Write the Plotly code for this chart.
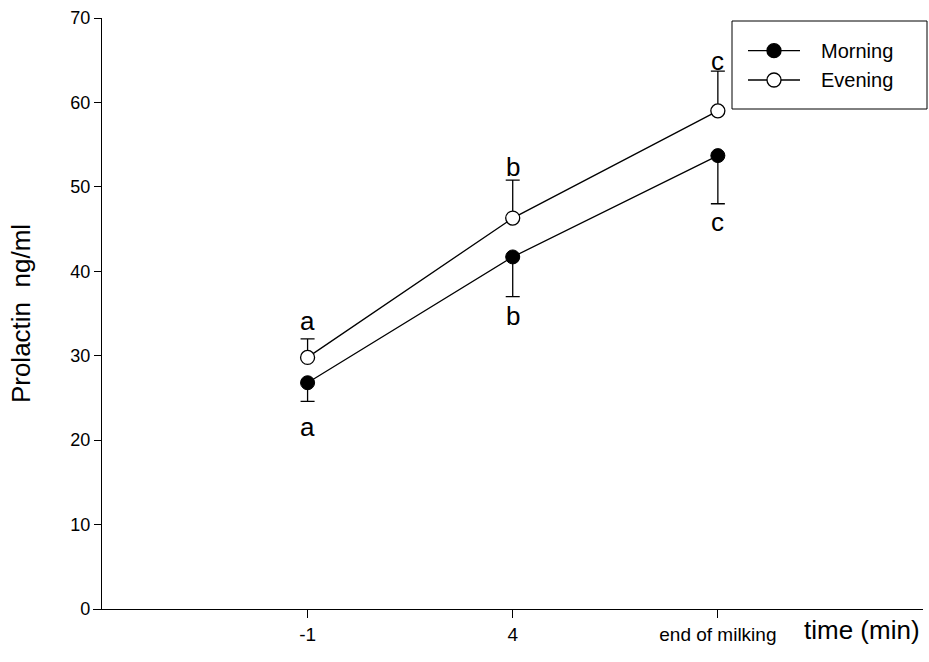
import plotly.graph_objects as go

# Sampling times (category positions 0, 1, 2 on the x axis)
time_labels = ["-1", "4", "end of milking"]
positions = [0, 1, 2]

# Prolactin means (ng/ml) and their one-sided standard errors
morning_mean = [26.8, 41.7, 53.7]
morning_sem = [2.2, 4.7, 5.7]
evening_mean = [29.8, 46.3, 59.0]
evening_sem = [2.2, 4.5, 4.7]

# Significance letters
morning_letters = ["a", "b", "c"]
evening_letters = ["a", "b", "c"]

FONT = "Arial, Liberation Sans, sans-serif"
BLACK = "#000000"

fig = go.Figure()

fig.add_trace(go.Scatter(
    x=positions, y=morning_mean, mode="lines+markers", name="Morning",
    line=dict(color=BLACK, width=1.3),
    marker=dict(symbol="circle", size=14, color=BLACK, line=dict(color=BLACK, width=1)),
    error_y=dict(type="data", symmetric=False, array=[0, 0, 0], arrayminus=morning_sem,
                 color=BLACK, thickness=1.3, width=7),
    showlegend=False,
))
fig.add_trace(go.Scatter(
    x=positions, y=evening_mean, mode="lines+markers", name="Evening",
    line=dict(color=BLACK, width=1.3),
    marker=dict(symbol="circle", size=14, color="white", line=dict(color=BLACK, width=1.3)),
    error_y=dict(type="data", symmetric=False, array=evening_sem, arrayminus=[0, 0, 0],
                 color=BLACK, thickness=1.3, width=7),
    showlegend=False,
))

# Letters above the evening error bars and below the morning error bars
above_shift = [18, 13, 10]
below_shift = [-26, -19, -18]
for i, p in enumerate(positions):
    fig.add_annotation(x=p, y=evening_mean[i] + evening_sem[i], text=evening_letters[i],
                       showarrow=False, yanchor="middle", yshift=above_shift[i],
                       font=dict(family=FONT, size=26, color=BLACK))
    fig.add_annotation(x=p, y=morning_mean[i] - morning_sem[i], text=morning_letters[i],
                       showarrow=False, yanchor="middle", yshift=below_shift[i],
                       font=dict(family=FONT, size=26, color=BLACK))

# Legend box drawn in paper coordinates
L, T = 93, 18
W, H = 830, 591
def px(x):
    return (x - L) / W
def py(y):
    return (T + H - y) / H

fig.add_shape(type="rect", xref="paper", yref="paper",
              x0=px(732), x1=px(927), y0=py(109), y1=py(21),
              line=dict(color=BLACK, width=1), fillcolor="white", layer="above")
legend_rows = [("Morning", BLACK, 50.7), ("Evening", "white", 80)]
for name, fill, ry in legend_rows:
    fig.add_shape(type="line", xref="paper", yref="paper",
                  x0=px(748), x1=px(800), y0=py(ry), y1=py(ry),
                  line=dict(color=BLACK, width=1.3), layer="above")
    fig.add_shape(type="circle", xref="paper", yref="paper",
                  xsizemode="pixel", ysizemode="pixel",
                  xanchor=px(774), yanchor=py(ry),
                  x0=-7, x1=7, y0=-7, y1=7,
                  line=dict(color=BLACK, width=1.3), fillcolor=fill, layer="above")
    fig.add_annotation(xref="paper", yref="paper", x=px(819), y=py(ry), text=name,
                       showarrow=False, xanchor="left", yanchor="middle",
                       font=dict(family=FONT, size=20, color=BLACK))

# x-axis title at the right end of the axis
fig.add_annotation(xref="paper", yref="paper", x=px(922), y=py(630), text="time (min)",
                   showarrow=False, xanchor="right", yanchor="middle",
                   font=dict(family=FONT, size=26, color=BLACK))

fig.update_layout(
    width=929, height=662,
    margin=dict(l=L, r=929 - L - W, t=T, b=662 - T - H),
    plot_bgcolor="white", paper_bgcolor="white",
    font=dict(family=FONT, color=BLACK),
    showlegend=False,
    xaxis=dict(
        range=[-1.046, 3.0], tickmode="array", tickvals=positions, ticktext=time_labels,
        showgrid=False, zeroline=False, showline=True, linecolor=BLACK, linewidth=1.3,
        ticks="outside", ticklen=8, tickwidth=1.3, tickcolor=BLACK,
        tickfont=dict(family=FONT, size=19, color=BLACK),
    ),
    yaxis=dict(
        range=[0, 70], tickmode="array", tickvals=[0, 10, 20, 30, 40, 50, 60, 70],
        showgrid=False, zeroline=False, showline=True, linecolor=BLACK, linewidth=1.3,
        ticks="outside", ticklen=7, tickwidth=1.3, tickcolor=BLACK,
        anchor="free", position=(101 - L) / W,
        tickfont=dict(family=FONT, size=18, color=BLACK),
        title=dict(text="Prolactin\u00a0 ng/ml", font=dict(family=FONT, size=26, color=BLACK),
                   standoff=31),
    ),
)

fig.write_html("out.html")
